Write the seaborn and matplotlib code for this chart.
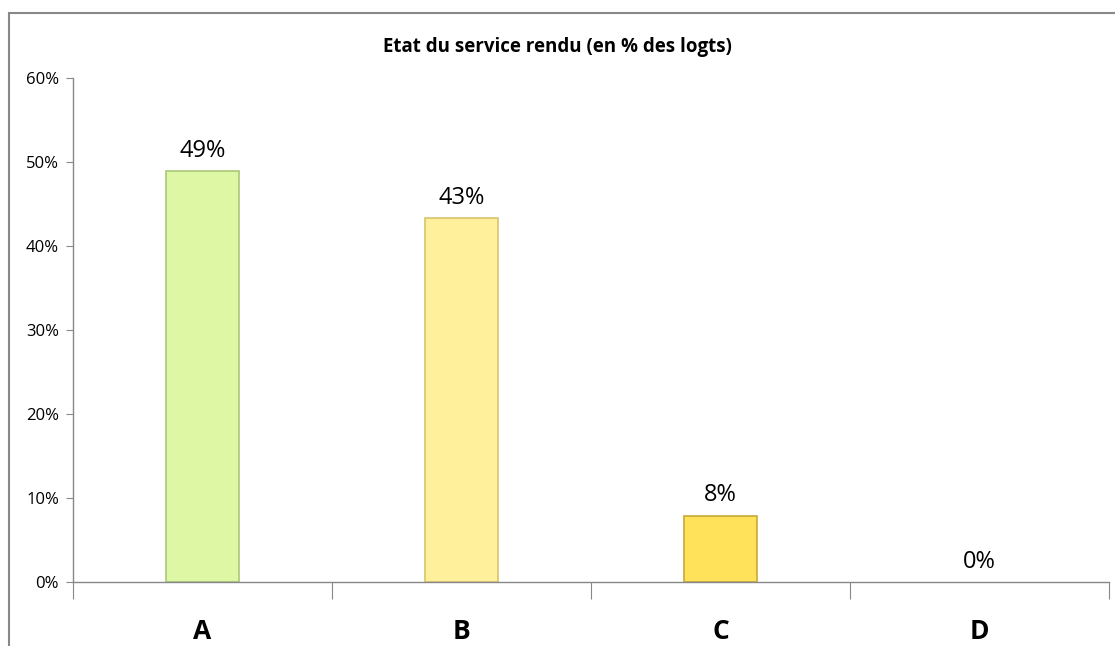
import matplotlib
matplotlib.use("Agg")
import matplotlib.pyplot as plt
import seaborn as sns
import pandas as pd
from matplotlib.patches import Rectangle
from matplotlib.ticker import FixedLocator, PercentFormatter

categories = ["A", "B", "C", "D"]
values = [48.9, 43.3, 7.9, 0.0]
labels = ["49%", "43%", "8%", "0%"]
colors = ["#DDF7A4", "#FFF19B", "#FFE15A", "#FFE15A"]
edges = ["#A9C878", "#D9C46E", "#C9A93A", "none"]

df = pd.DataFrame({"cat": categories, "val": values})

sns.set_style("white")
plt.rcParams["font.family"] = ["Open Sans", "DejaVu Sans"]
plt.rcParams["text.color"] = "black"
plt.rcParams["xtick.color"] = "black"
plt.rcParams["ytick.color"] = "black"

fig = plt.figure(figsize=(11.15, 6.46), dpi=100)
ax = fig.add_axes([73 / 1115, 1 - 582 / 646, (1109 - 73) / 1115, (582 - 78) / 646])

sns.barplot(data=df, x="cat", y="val", hue="cat", palette=colors, width=0.28,
            legend=False, ax=ax, saturation=1)
for bar, ec in zip(ax.patches, edges):
    bar.set_edgecolor(ec)
    bar.set_linewidth(1.2)

for i, (v, lab) in enumerate(zip(values, labels)):
    ax.text(i, v + 1.0, lab, ha="center", va="bottom", fontsize=17, color="black")

ax.set_xlim(-0.5, 3.5)
ax.set_ylim(0, 60)
ax.set_yticks(range(0, 61, 10))
ax.yaxis.set_major_formatter(PercentFormatter(decimals=0))
ax.tick_params(axis="y", labelsize=12, length=5, color="#888888", left=True,
               pad=5, labelcolor="black")
ax.xaxis.set_major_locator(FixedLocator([-0.5, 0.5, 1.5, 2.5, 3.5]))
ax.xaxis.set_minor_locator(FixedLocator([0, 1, 2, 3]))
ax.set_xticklabels([])
ax.set_xticklabels(categories, minor=True)
ax.tick_params(axis="x", which="major", length=12, color="#888888", bottom=True)
ax.tick_params(axis="x", which="minor", length=0, labelsize=19, pad=26,
               labelcolor="black")
for t in ax.get_xticklabels(minor=True):
    t.set_fontweight("bold")
ax.set_xlabel("")
ax.set_ylabel("")
for s in ["top", "right"]:
    ax.spines[s].set_visible(False)
for s in ["left", "bottom"]:
    ax.spines[s].set_color("#888888")
    ax.spines[s].set_linewidth(1)

fig.text(0.5, 1 - 47 / 646, "Etat du service rendu (en % des logts)", ha="center",
         va="center", fontsize=13.5, fontweight="bold", color="black")

# chart frame (cropped)
fig.patches.append(Rectangle((9 / 1115, -0.05), 1.2, 1 - 13 / 646 + 0.05,
                             transform=fig.transFigure, fill=False,
                             edgecolor="#888888", linewidth=1.5))

fig.savefig("out.png", dpi=100)
